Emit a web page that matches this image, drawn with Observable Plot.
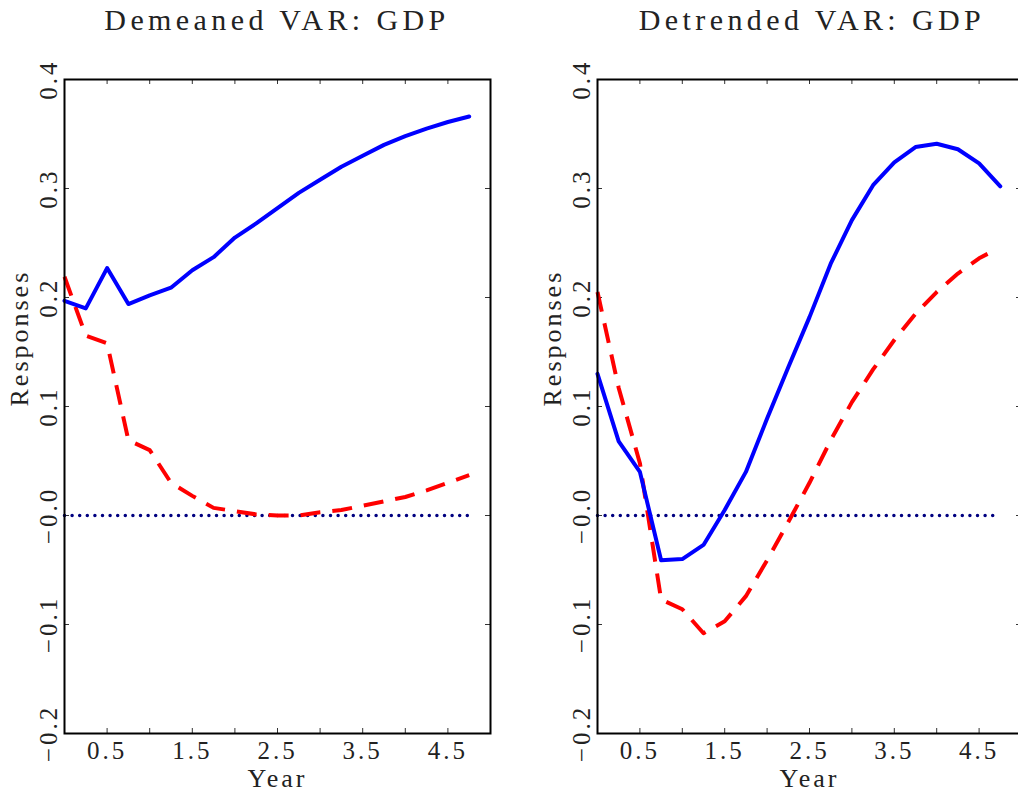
<!DOCTYPE html>
<html><head><meta charset="utf-8">
<script src="https://cdn.jsdelivr.net/npm/d3@7"></script>
<script src="https://cdn.jsdelivr.net/npm/@observablehq/plot@0.6"></script>
<style>
html,body{margin:0;padding:0;background:#fff;overflow:hidden;}
#wrap{position:relative;width:1018px;height:799px;overflow:hidden;}
.panel{position:absolute;top:0;width:500px;height:799px;}
.panel svg{max-width:none !important;}
.panel svg text{letter-spacing:3px;}
.title{position:absolute;top:5px;font-family:"Liberation Serif",serif;font-size:30px;line-height:30px;letter-spacing:4.4px;white-space:nowrap;transform:translateX(-50%);color:#222;}
</style></head><body><div id="wrap"></div>
<script>
// ---- data ----
const quarters = [0,0.25,0.5,0.75,1,1.25,1.5,1.75,2,2.25,2.5,2.75,3,3.25,3.5,3.75,4,4.25,4.5,4.75];
const demeanedBlue = [0.197,0.190,0.227,0.194,0.202,0.209,0.225,0.237,0.255,0.268,0.282,0.296,0.308,0.320,0.330,0.340,0.348,0.355,0.361,0.366];
const demeanedRed  = [0.219,0.165,0.158,0.069,0.060,0.030,0.018,0.007,0.004,0.001,0.000,0.000,0.003,0.005,0.009,0.013,0.017,0.023,0.030,0.037];
const detrendedBlue = [0.130,0.068,0.040,-0.041,-0.040,-0.027,0.005,0.040,0.089,0.136,0.182,0.231,0.271,0.303,0.324,0.338,0.341,0.336,0.323,0.302];
const detrendedRedX = [0,0.25,0.5,0.75,1,1.25,1.5,1.75,2,2.25,2.5,2.75,3,3.25,3.5,3.75,4,4.25,4.5,4.6];
const detrendedRed  = [0.205,0.117,0.048,-0.077,-0.086,-0.108,-0.097,-0.074,-0.041,-0.006,0.030,0.069,0.104,0.134,0.161,0.185,0.205,0.222,0.236,0.240];
const zeroX = [0, 4.75];
const zeroY = [0, 0];
const titles = ["Demeaned VAR: GDP", "Detrended VAR: GDP"];
const xTicks = [0.5,1,1.5,2,2.5,3,3.5,4,4.5];
const xLabelTicks = [0.5,1.5,2.5,3.5,4.5];
const xLabels = ["0.5","1.5","2.5","3.5","4.5"];
const yTicks = [0.4,0.3,0.2,0.1,0,-0.1,-0.2];
const yLabels = ["0.4","0.3","0.2","0.1","\u22120.0","\u22120.1","\u22120.2"];
const xTitle = "Year";
const yTitle = "Responses";

const FONT = "Liberation Serif";
const wrap = document.getElementById("wrap");

function makePanel(opts) {
  const H = 799, mt = 79, mb = 66, ml = 64, mr = 10;
  const fh = H - mt - mb;
  const fw = opts.frameW;
  const blue = opts.blueX.map((x, i) => ({x, y: opts.blueY[i]}));
  const red = opts.redX.map((x, i) => ({x, y: opts.redY[i]}));
  const zero = zeroX.map((x, i) => ({x, y: zeroY[i]}));
  const svg = Plot.plot({
    width: ml + fw + mr, height: H,
    marginTop: mt, marginBottom: mb, marginLeft: ml, marginRight: mr,
    x: {domain: [0, 5]},
    y: {domain: [-0.2, 0.4]},
    style: {fontFamily: FONT, fontSize: "25px", color: "#222", background: "transparent", overflow: "visible"},
    marks: [
      Plot.ruleX(xTicks, {x: d => d, insetTop: fh - 5, stroke: "#333", strokeWidth: 1}),
      Plot.ruleX(xTicks, {x: d => d, insetBottom: fh - 5, stroke: "#333", strokeWidth: 1}),
      Plot.ruleY(yTicks, {y: d => d, insetRight: fw - 5, stroke: "#333", strokeWidth: 1}),
      Plot.ruleY(yTicks, {y: d => d, insetLeft: fw - 5, stroke: "#333", strokeWidth: 1}),
      Plot.axisX(xLabelTicks, {tickSize: 0, tickPadding: 8, fontSize: 25, tickFormat: d => xLabels[xLabelTicks.indexOf(d)], label: null}),
      Plot.axisY(yTicks, {tickSize: 0, tickPadding: 8, tickRotate: -90, fontSize: 25, tickFormat: d => yLabels[yTicks.indexOf(d)], label: null}),
      Plot.line(zero, {x: "x", y: "y", stroke: "#000080", strokeWidth: 3.5, strokeDasharray: "0,7.6", strokeLinecap: "round"}),
      Plot.line(red, {x: "x", y: "y", stroke: "#ff0000", strokeWidth: 4, strokeDasharray: "20,12", strokeLinecap: "butt"}),
      Plot.line(blue, {x: "x", y: "y", stroke: "#0000ff", strokeWidth: 4}),
      Plot.frame({stroke: "#000", strokeWidth: 2}),
      Plot.text([xTitle], {text: d => d, frameAnchor: "bottom", dy: 53, fontSize: 26, fill: "#222"}),
      Plot.text([yTitle], {text: d => d, frameAnchor: "left", dx: -45, rotate: -90, fontSize: 26, fill: "#222"})
    ]
  });
  const div = document.createElement("div");
  div.className = "panel";
  div.style.left = opts.left + "px";
  div.appendChild(svg);
  wrap.appendChild(div);
  const t = document.createElement("div");
  t.className = "title";
  t.textContent = opts.title;
  t.style.left = opts.titleCenter + "px";
  wrap.appendChild(t);
}

makePanel({title: titles[0], left: 0, frameW: 426, titleCenter: 277,
  blueX: quarters, blueY: demeanedBlue, redX: quarters, redY: demeanedRed});
makePanel({title: titles[1], left: 533, frameW: 424, titleCenter: 812,
  blueX: quarters, blueY: detrendedBlue, redX: detrendedRedX, redY: detrendedRed});
</script>
</body></html>
